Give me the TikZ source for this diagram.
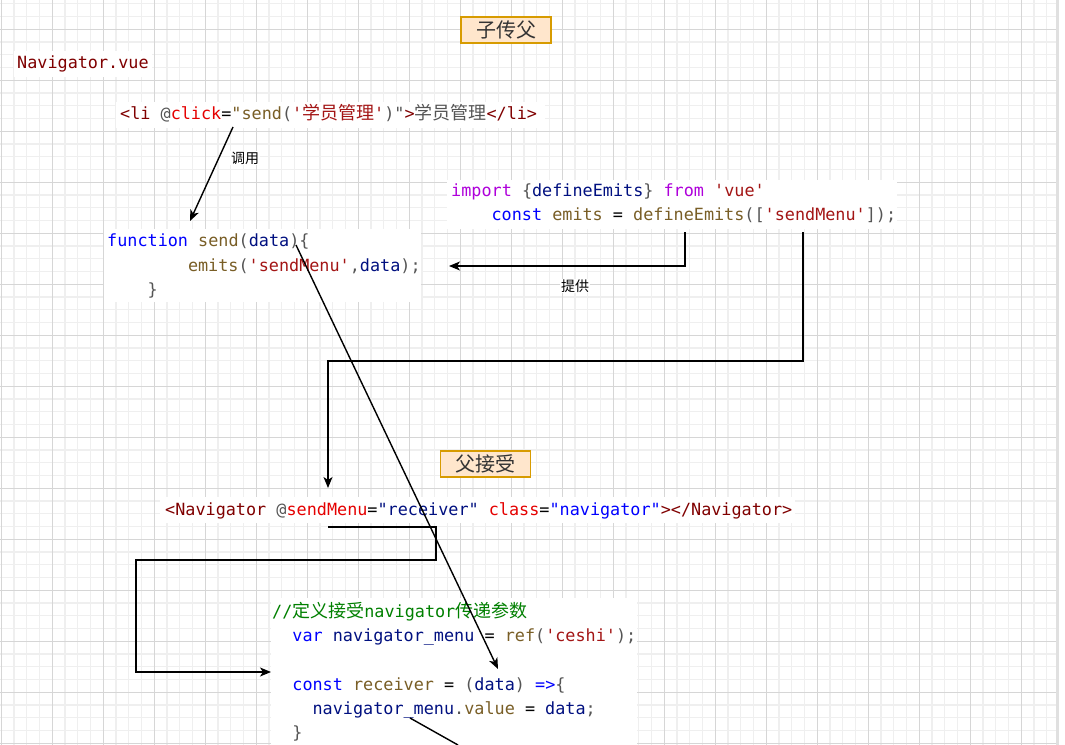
\documentclass[tikz,border=0pt]{standalone}
\usepackage{fontspec}
\setmonofont{DejaVu Sans Mono}
\newfontfamily\cjk[Scale=1.07]{Noto Sans CJK SC}
\newfontfamily\cjklab{Noto Sans CJK SC}
\usetikzlibrary{arrows.meta}
\definecolor{ctag}{HTML}{800000}
\definecolor{catt}{HTML}{E50000}
\definecolor{cstr}{HTML}{A31515}
\definecolor{cfn}{HTML}{795E26}
\definecolor{cvar}{HTML}{001080}
\definecolor{ckw}{HTML}{0000FF}
\definecolor{cmg}{HTML}{AF00DB}
\definecolor{cgr}{HTML}{555555}
\definecolor{ccm}{HTML}{008000}
\definecolor{gmin}{HTML}{EFEFEF}
\definecolor{gmaj}{HTML}{D6D6D6}
\definecolor{tfill}{HTML}{FFE6CC}
\definecolor{tdraw}{HTML}{D79B00}
\newcommand\cTag[1]{\textcolor{ctag}{#1}}
\newcommand\cAtt[1]{\textcolor{catt}{#1}}
\newcommand\cStr[1]{\textcolor{cstr}{#1}}
\newcommand\cFn[1]{\textcolor{cfn}{#1}}
\newcommand\cVar[1]{\textcolor{cvar}{#1}}
\newcommand\cKw[1]{\textcolor{ckw}{#1}}
\newcommand\cMg[1]{\textcolor{cmg}{#1}}
\newcommand\cGr[1]{\textcolor{cgr}{#1}}
\newcommand\cCm[1]{\textcolor{ccm}{#1}}
\newcommand\codesize{\fontsize{16.8bp}{20bp}\selectfont}
\tikzset{
  code/.style={anchor=base west, inner sep=0pt, font=\ttfamily\codesize, text=black},
  titlebox/.style={draw=tdraw, fill=tfill, line width=1.5bp, minimum width=90bp, minimum height=26bp, inner sep=0pt, font=\cjklab\fontsize{20bp}{22bp}\selectfont, text=black!80},
  lab/.style={inner sep=1bp, fill=white, font=\cjklab\fontsize{14bp}{16bp}\selectfont},
  conn/.style={draw=black, line width=1.4bp},
  arr/.style={conn, -{Stealth[length=11bp,width=9bp,inset=3bp]}},
  gridminor/.style={draw=gmin, line width=1.2bp},
  gridmajor/.style={draw=gmaj, line width=1bp}
}
\begin{document}
\begin{tikzpicture}[x=1bp,y=-1bp]
\useasboundingbox (0,0) rectangle (1065,745);
\fill[white] (0,0) rectangle (1065,745);
% grid
\begin{scope}
\clip (0,0) rectangle (1056,745);
\foreach \k in {0,...,82} \draw[gridminor] ({1.3+12.75*\k},0) -- ({1.3+12.75*\k},745);
\foreach \k in {-2,...,56} \draw[gridminor] (0,{29.3+12.75*\k}) -- (1056,{29.3+12.75*\k});
\foreach \k in {0,...,20} \draw[gridmajor] ({1.3+51*\k},0) -- ({1.3+51*\k},745);
\foreach \k in {0,...,14} \draw[gridmajor] (0,{29.3+51*\k}) -- (1056,{29.3+51*\k});
\end{scope}
\fill[black!12] (1056,0) rectangle (1059,745);
% white backgrounds of code blocks
\fill[white] (14,51) rectangle (152,77);
\fill[white] (116,102) rectangle (545,128);
\fill[white] (447,180) rectangle (897,229);
\fill[white] (104,229) rectangle (421,302);
\fill[white] (160,497) rectangle (795,523);
\fill[white] (271,598) rectangle (637,745);
% titles
\node[titlebox] (t1) at (506,30) {子传父};
\node[titlebox] (t2) at (485.5,464) {父接受};
% code texts
\node[code] (file) at (17,69) {\cTag{Navigator.vue}};
\node[code] (li) at (120,119) {\cTag{<li} \cGr{@}\cAtt{click}=\cFn{"send}\cGr{(}\cStr{'{\cjk 学员管理}'}\cGr{)"}\cTag{>}\cGr{{\cjk 学员管理}}\cTag{</li>}};
\node[code] (imp1) at (451,196) {\cMg{import} \cGr{\{}\cVar{defineEmits}\cGr{\}} \cMg{from} \cStr{'vue'}};
\node[code] (imp2) at (491.4,220) {\cKw{const} \cFn{emits} = \cFn{defineEmits}\cGr{([}\cStr{'sendMenu'}\cGr{]);}};
\node[code] (fn1) at (107,246) {\cKw{function} \cFn{send}\cGr{(}\cVar{data}\cGr{)\{}};
\node[code] (fn2) at (187.8,271) {\cFn{emits}\cGr{(}\cStr{'sendMenu'}\cGr{,}\cVar{data}\cGr{);}};
\node[code] (fn3) at (147.4,295) {\cGr{\}}};
\node[code] (nav) at (165,515) {\cTag{<Navigator} \cGr{@}\cAtt{sendMenu}=\cVar{"receiver"} \cAtt{class}=\cKw{"navigator"}\cTag{></Navigator>}};
\node[code] (rc1) at (272,617) {\cCm{//{\cjk 定义接受}navigator{\cjk 传递参数}}};
\node[code] (rc2) at (292.2,641) {\cKw{var} \cVar{navigator\_menu} = \cFn{ref}\cGr{(}\cStr{'ceshi'}\cGr{);}};
\node[code] (rc3) at (292.2,690) {\cKw{const} \cFn{receiver} = \cGr{(}\cVar{data}\cGr{)} \cKw{=>}\cGr{\{}};
\node[code] (rc4) at (312.4,714) {\cVar{navigator\_menu}\cGr{.}\cFn{value} = \cVar{data}\cGr{;}};
\node[code] (rc5) at (292.2,738) {\cGr{\}}};
% connector end points
\coordinate (a1) at (233,127);
\coordinate (a2) at (190,221);
\coordinate (b1) at (685,232);
\coordinate (b2) at (449,266);
\coordinate (c1) at (803,232);
\coordinate (c2) at (328,488);
\coordinate (d1) at (328,527);
\coordinate (d2) at (271,672);
\coordinate (e1) at (296,245);
\coordinate (e2) at (498,669);
\coordinate (f1) at (410,718);
\coordinate (f2) at (458,745);
% connectors
\draw[arr] (a1) -- (a2);
\node[lab] (l1) at (245,158) {调用};
\draw[arr] (b1) |- (b2);
\node[lab] (l2) at (575,286) {提供};
\draw[arr] (c1) -- (803,361) -| (c2);
\draw[arr] (d1) -- (436,527) -- (436,560) -- (136,560) |- (d2);
\draw[arr] (e1) -- (e2);
\draw[conn] (f1) -- (f2);
\end{tikzpicture}
\end{document}
